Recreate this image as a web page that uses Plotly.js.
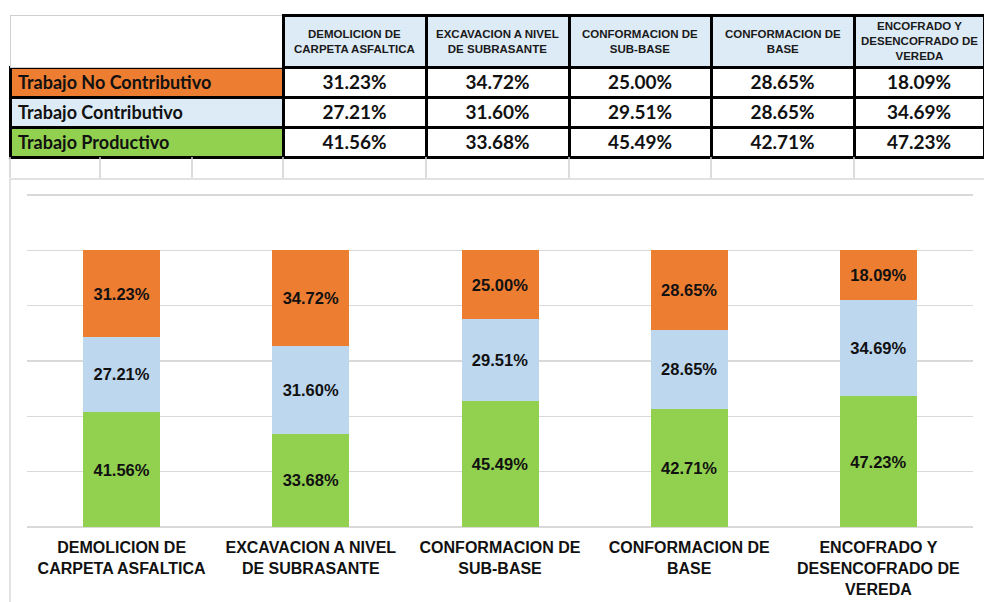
<!DOCTYPE html>
<html>
<head>
<meta charset="utf-8">
<script src="https://cdn.plot.ly/plotly-3.0.1.min.js"></script>
<style>
html,body{margin:0;padding:0;background:#fff;}
#chart{width:984px;height:602px;}
</style>
</head>
<body>
<div id="chart"></div>
<script>
// ---- data ----
var categories = [
  'DEMOLICION DE<br>CARPETA ASFALTICA',
  'EXCAVACION A NIVEL<br>DE SUBRASANTE',
  'CONFORMACION DE<br>SUB-BASE',
  'CONFORMACION DE<br>BASE',
  'ENCOFRADO Y<br>DESENCOFRADO DE<br>VEREDA'
];
var seriesNames = ['Trabajo No Contributivo', 'Trabajo Contributivo', 'Trabajo Productivo'];
var noContributivo = [31.23, 34.72, 25.00, 28.65, 18.09];
var contributivo   = [27.21, 31.60, 29.51, 28.65, 34.69];
var productivo     = [41.56, 33.68, 45.49, 42.71, 47.23];
var yTicks = [0, 20, 40, 60, 80, 100, 120];

// ---- styles ----
var cOrange = '#ED7D31', cBlueBar = '#BDD7EE', cBlueCell = '#DDEBF7', cGreen = '#92D050';
var W = 984, H = 602, L = 10;
function px(x){ return (x - L) / (W - L); }
function py(y){ return 1 - y / H; }
var colWidths = [273, 143, 143, 142, 143, 130];
var nCols = colWidths.length;
function colArr(first, rest){ var a=[first]; for(var i=1;i<nCols;i++) a.push(rest); return a; }
var NB = '\u00A0';

// ---- table ----
var rows = [noContributivo, contributivo, productivo];
var cellVals = [seriesNames.map(function(s){ return s.replace(/ /g, NB); })];
for (var j = 0; j < categories.length; j++) {
  cellVals.push(rows.map(function(r){ return r[j].toFixed(2) + '%'; }));
}

var table = {
  type: 'table',
  domain: {x: [0, 1], y: [py(160), py(15)]},
  columnwidth: colWidths,
  header: {
    values: colArr('', ''),
    height: 52,
    fill: {color: colArr('#ffffff', cBlueCell)},
    line: {color: colArr('#d0d0d0', '#000000'), width: colArr(1, 3)}
  },
  cells: {
    values: cellVals,
    height: 30,
    align: colArr('left', 'center'),
    fill: {color: colArr([cOrange, cBlueCell, cGreen], '#ffffff')},
    line: {color: '#000000', width: 3},
    font: {family: 'Lato, Calibri, sans-serif', size: colArr(18, 19), color: '#111111', weight: 'bold'}
  }
};

// header captions over the table header cells
var annotations = [];
var cum = colWidths[0];
var total = colWidths.reduce(function(a,b){return a+b;}, 0);
for (var k = 0; k < categories.length; k++) {
  var w = colWidths[k+1];
  annotations.push({
    xref: 'paper', yref: 'paper', x: (cum + w/2) / total, y: py(41),
    xanchor: 'center', yanchor: 'middle', align: 'center', showarrow: false,
    text: categories[k],
    font: {family: 'Liberation Sans, Arial, sans-serif', size: 11.5, color: '#1a1a1a', weight: 'bold'}
  });
  cum += w;
}

// ---- bars ----
function bar(name, vals, color){
  return {
    type: 'bar', name: name, x: categories, y: vals,
    marker: {color: color, line: {width: 0}},
    texttemplate: '%{y:.2f}%',
    textposition: 'inside', insidetextanchor: 'middle', textangle: 0,
    constraintext: 'none',
    textfont: {family: 'Liberation Sans, Arial, sans-serif', size: 16.5, color: '#111111', weight: 'bold'},
    hoverinfo: 'skip', xaxis: 'x', yaxis: 'y'
  };
}
var data = [
  table,
  bar(seriesNames[2], productivo, cGreen),
  bar(seriesNames[1], contributivo, cBlueBar),
  bar(seriesNames[0], noContributivo, cOrange)
];

// decorative spreadsheet grid lines (empty row + chart frame)
var gridX = [10, 100, 192, 283, 426, 569, 711, 854];
var shapes = gridX.map(function(x){
  return {type:'line', xref:'paper', yref:'paper', x0:px(x), x1:px(x), y0:py(157), y1:py(178),
          line:{color:'#d0d0d0', width:1.5}};
});
shapes.push({type:'line', xref:'paper', yref:'paper', x0:0, x1:1, y0:py(179), y1:py(179), line:{color:'#d9d9d9', width:1.5}});
shapes.push({type:'line', xref:'paper', yref:'paper', x0:0, x1:0, y0:py(179), y1:py(602), line:{color:'#d9d9d9', width:1.5}});

var layout = {
  width: W, height: H,
  margin: {l: L, r: 0, t: 0, b: 0, pad: 0},
  paper_bgcolor: '#ffffff', plot_bgcolor: '#ffffff',
  showlegend: false,
  barmode: 'stack',
  bargap: 0.593,
  xaxis: {
    domain: [px(27), px(973)],
    showgrid: false, zeroline: false, showline: false, ticks: '',
    ticklabelstandoff: 9,
    tickfont: {family: 'Liberation Sans, Arial, sans-serif', size: 16, color: '#111111', weight: 'bold'},
    fixedrange: true
  },
  yaxis: {
    domain: [py(527), py(192.2)],
    range: [0, 121],
    tickvals: yTicks,
    showticklabels: false,
    showgrid: true, gridcolor: '#d9d9d9', gridwidth: 1.5,
    zeroline: true, zerolinecolor: '#d9d9d9', zerolinewidth: 1.5,
    showline: false, ticks: '',
    fixedrange: true
  },
  shapes: shapes,
  annotations: annotations
};

Plotly.newPlot('chart', data, layout, {displayModeBar: false, staticPlot: true});
</script>
</body>
</html>
